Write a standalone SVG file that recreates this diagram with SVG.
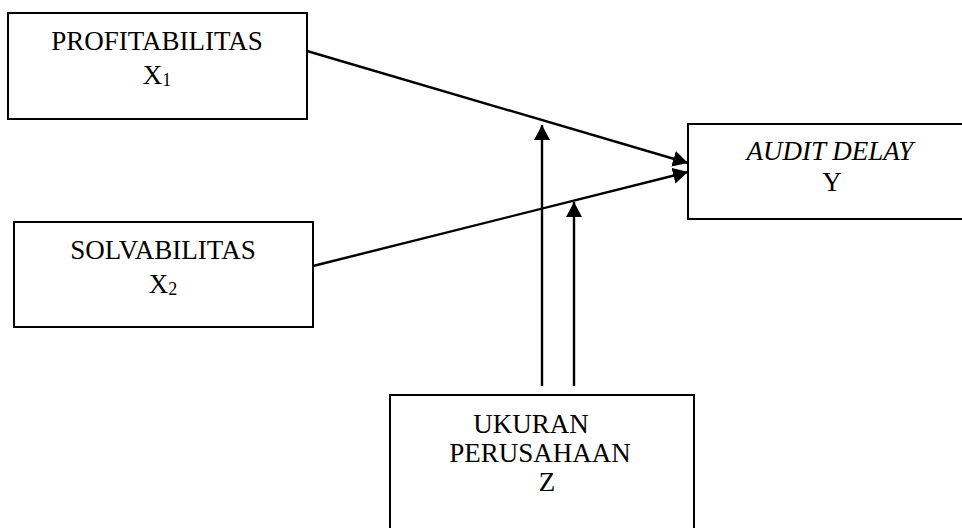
<svg xmlns="http://www.w3.org/2000/svg" width="962" height="528" viewBox="0 0 962 528">
<style>
.box{fill:#fff;stroke:#000;stroke-width:2}
.t{font-family:"Liberation Serif","Times New Roman",serif;font-size:27px;fill:#000;text-anchor:middle}
.i{font-style:italic}
.sub{font-size:18px}
.ln{stroke:#000;stroke-width:2.4;fill:none;marker-end:url(#ah)}
</style>
<defs>
<marker id="ah" markerUnits="userSpaceOnUse" markerWidth="18" markerHeight="18" refX="15" refY="8" orient="auto">
<path d="M0,0 L15,8 L0,16 z" fill="#000"/>
</marker>
</defs>
<rect width="962" height="528" fill="#fff"/>
<g id="x1">
<rect class="box" x="8" y="13" width="299" height="106"/>
<text class="t" x="157" y="50">PROFITABILITAS</text>
<text class="t" x="157" y="84">X<tspan class="sub" dy="2">1</tspan></text>
</g>
<g id="x2">
<rect class="box" x="14" y="222" width="299" height="105"/>
<text class="t" x="163" y="259">SOLVABILITAS</text>
<text class="t" x="163" y="293">X<tspan class="sub" dy="2">2</tspan></text>
</g>
<g id="y">
<rect class="box" x="688" y="124" width="284" height="95"/>
<text class="t i" x="830" y="160">AUDIT DELAY</text>
<text class="t" x="832" y="191">Y</text>
</g>
<g id="z">
<rect class="box" x="390" y="395" width="304" height="140"/>
<text class="t" x="531" y="433">UKURAN</text>
<text class="t" x="540" y="462">PERUSAHAAN</text>
<text class="t" x="547" y="491">Z</text>
</g>
<g id="connectors">
<line class="ln" x1="307" y1="51" x2="688" y2="163"/>
<line class="ln" x1="313" y1="266" x2="688" y2="172"/>
<line class="ln" x1="542" y1="386" x2="542" y2="125"/>
<line class="ln" x1="574" y1="386" x2="574" y2="202"/>
</g>
</svg>
